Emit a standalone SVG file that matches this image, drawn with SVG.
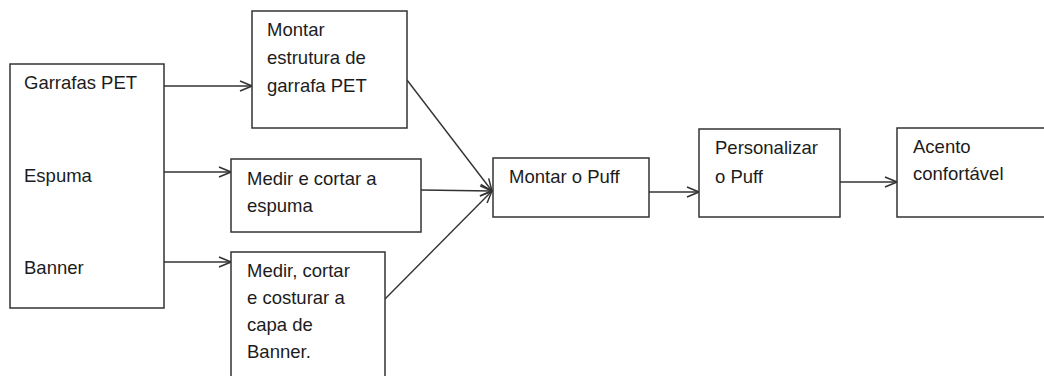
<svg xmlns="http://www.w3.org/2000/svg" width="1044" height="376" viewBox="0 0 1044 376">
<defs>
<style>
.box{fill:#fff;stroke:#333;stroke-width:1.5}
.t{font-family:"Liberation Sans",Arial,sans-serif;font-size:18.5px;fill:#1c1c1c}
.c{fill:none;stroke:#333;stroke-width:1.4}
</style>
<marker id="ah" viewBox="0 0 14 12" refX="13" refY="6" markerWidth="14" markerHeight="12" markerUnits="userSpaceOnUse" orient="auto">
<path d="M1,1 L13,6 L1,11" fill="none" stroke="#333" stroke-width="1.5"/>
</marker>
</defs>
<rect width="1044" height="376" fill="#fff"/>
<g id="connectors">
<line class="c" x1="164" y1="86" x2="252" y2="86" marker-end="url(#ah)"/>
<line class="c" x1="164" y1="172" x2="231" y2="172" marker-end="url(#ah)"/>
<line class="c" x1="164" y1="262" x2="231" y2="262" marker-end="url(#ah)"/>
<line class="c" x1="407" y1="80" x2="492" y2="191" marker-end="url(#ah)"/>
<line class="c" x1="421" y1="190" x2="492" y2="191" marker-end="url(#ah)"/>
<line class="c" x1="385" y1="299" x2="492" y2="191" marker-end="url(#ah)"/>
<line class="c" x1="649" y1="192" x2="699" y2="192" marker-end="url(#ah)"/>
<line class="c" x1="840" y1="182" x2="897" y2="182" marker-end="url(#ah)"/>
</g>
<g id="inputs">
<rect class="box" x="10" y="64" width="154" height="244"/>
<text class="t" x="24" y="89">Garrafas PET</text>
<text class="t" x="24" y="182">Espuma</text>
<text class="t" x="24" y="274">Banner</text>
</g>
<g id="montar-estrutura">
<rect class="box" x="252" y="11" width="155" height="117"/>
<text class="t" x="267" y="36"><tspan x="267">Montar</tspan><tspan x="267" dy="28">estrutura de</tspan><tspan x="267" dy="28">garrafa PET</tspan></text>
</g>
<g id="medir-espuma">
<rect class="box" x="231" y="159" width="190" height="73"/>
<text class="t" x="247" y="185"><tspan x="247">Medir e cortar a</tspan><tspan x="247" dy="27">espuma</tspan></text>
</g>
<g id="medir-banner">
<rect class="box" x="231" y="252" width="154" height="130"/>
<text class="t" x="247" y="277"><tspan x="247">Medir, cortar</tspan><tspan x="247" dy="27">e costurar a</tspan><tspan x="247" dy="27">capa de</tspan><tspan x="247" dy="27">Banner.</tspan></text>
</g>
<g id="montar-puff">
<rect class="box" x="493" y="158" width="156" height="59"/>
<text class="t" x="509" y="183">Montar o Puff</text>
</g>
<g id="personalizar">
<rect class="box" x="699" y="129" width="141" height="88"/>
<text class="t" x="715" y="154"><tspan x="715">Personalizar</tspan><tspan x="715" dy="29">o Puff</tspan></text>
</g>
<g id="acento">
<rect class="box" x="897" y="128" width="160" height="89"/>
<text class="t" x="913" y="153"><tspan x="913">Acento</tspan><tspan x="913" dy="27">confortável</tspan></text>
</g>
</svg>
